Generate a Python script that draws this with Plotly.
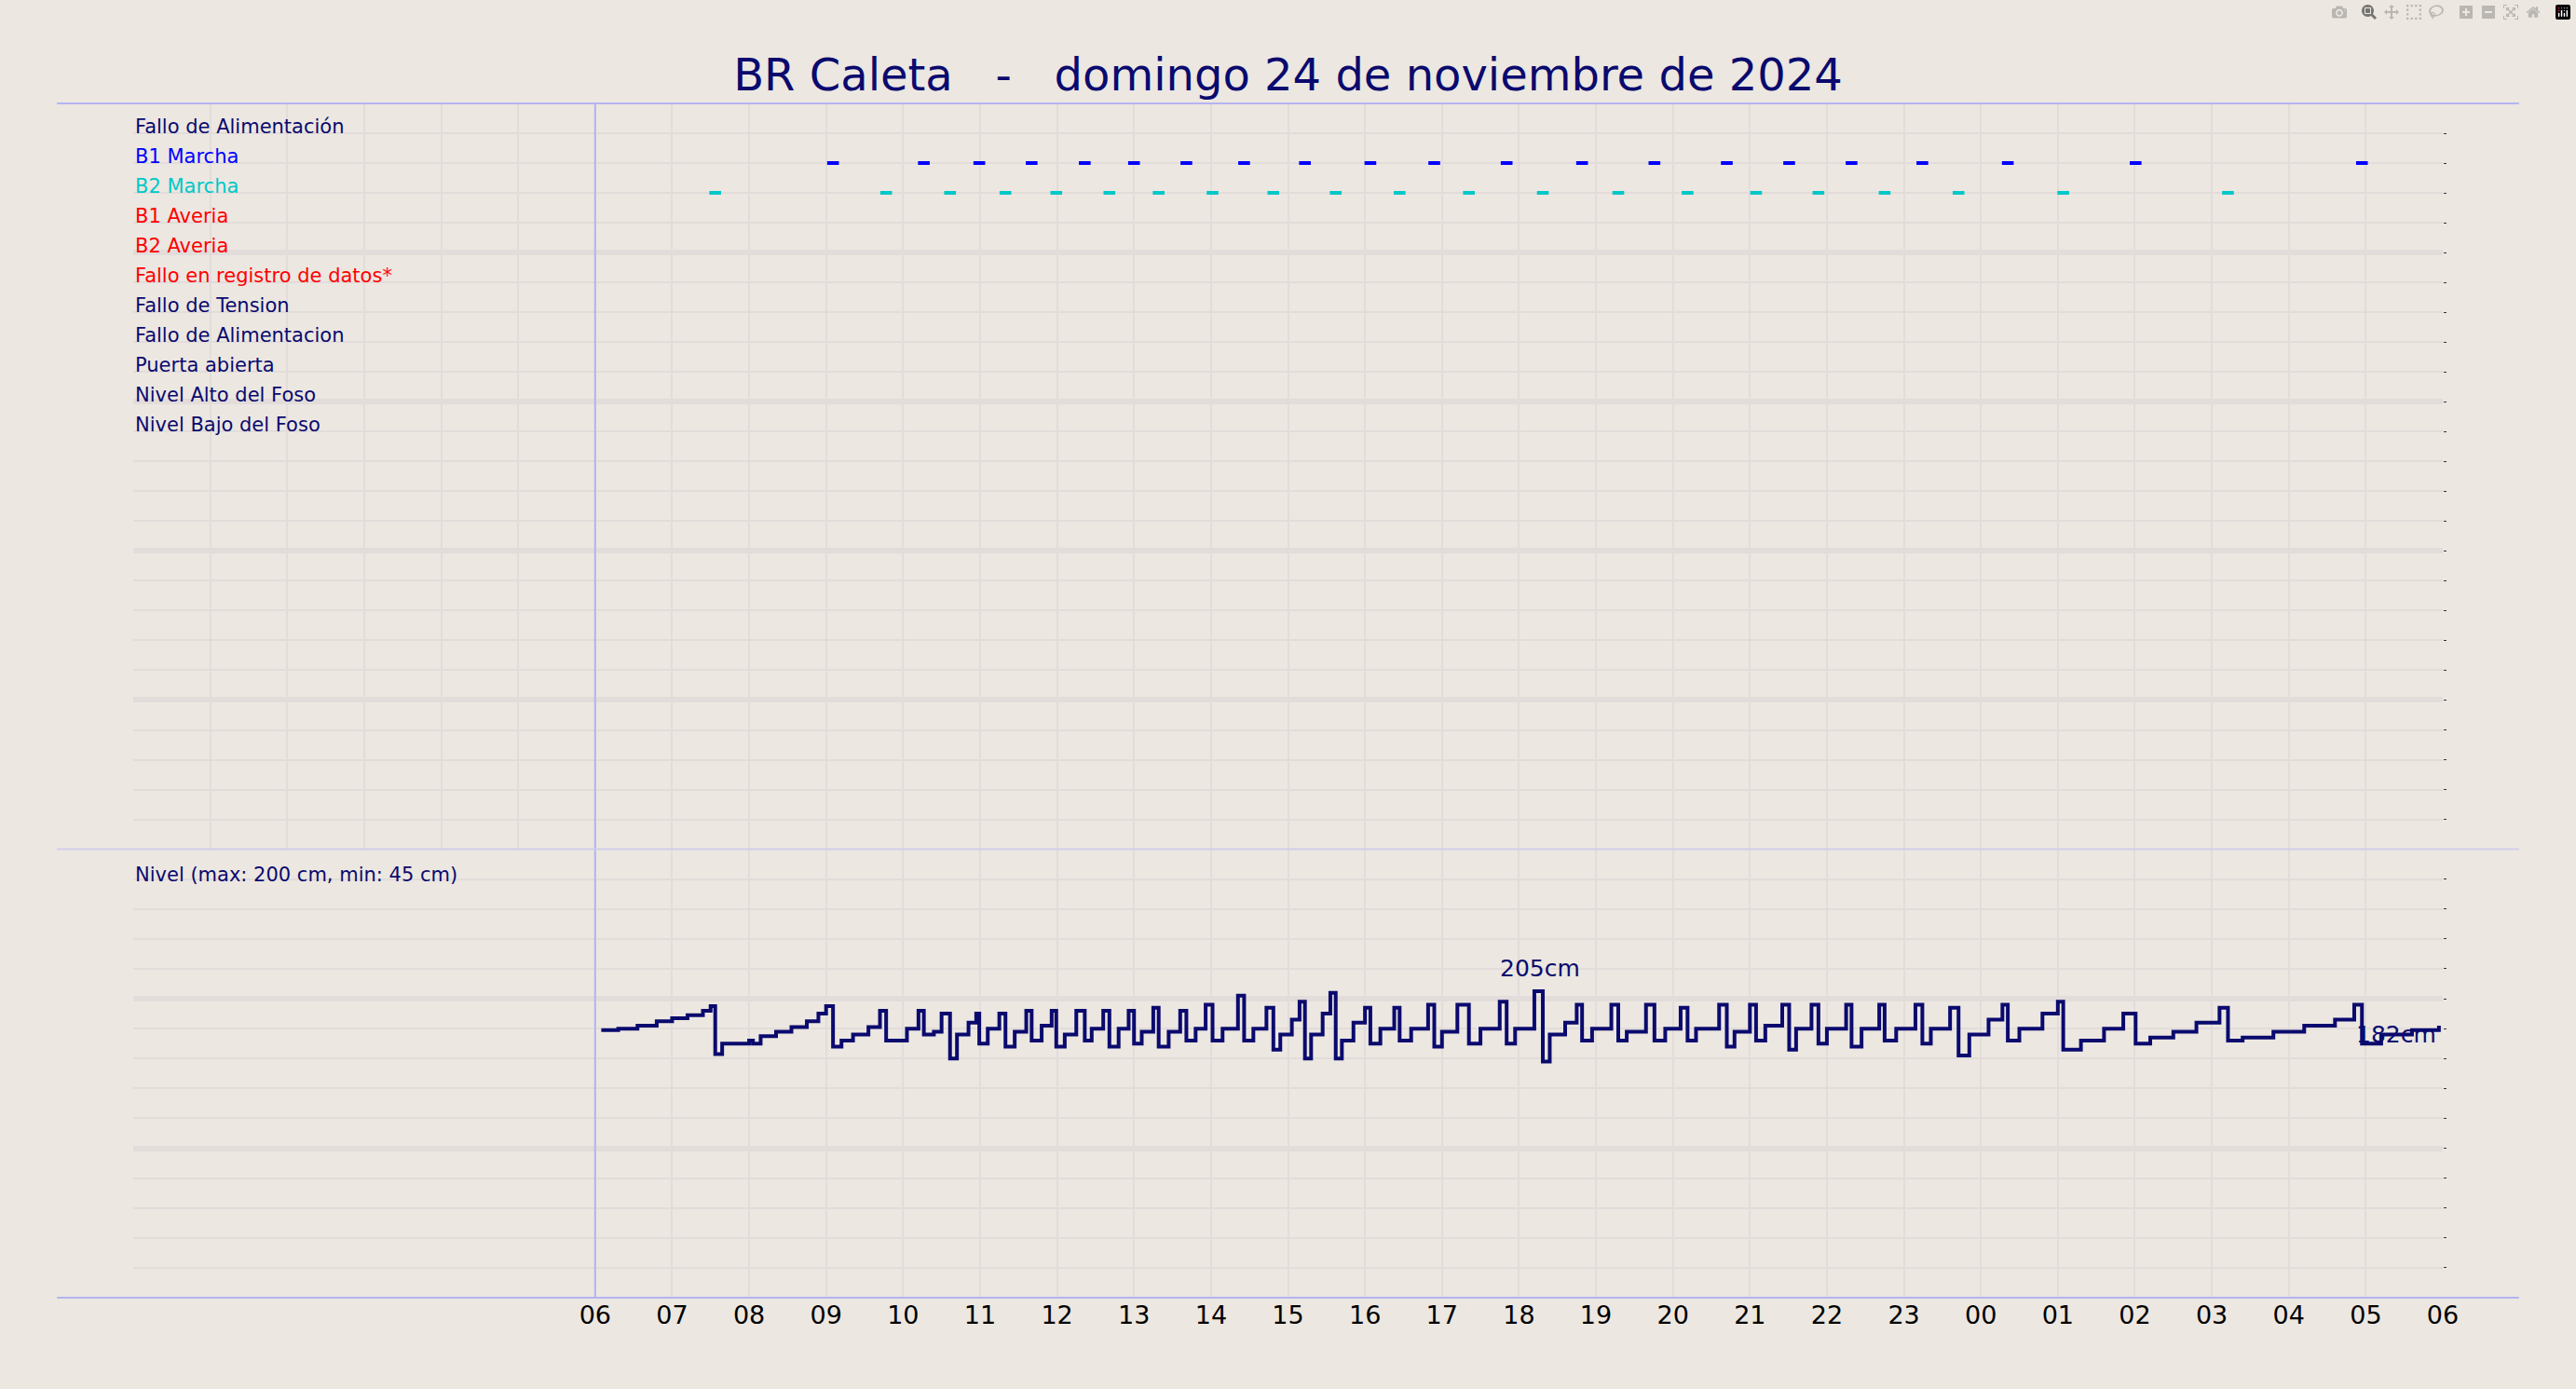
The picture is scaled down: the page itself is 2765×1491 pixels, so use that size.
import plotly.graph_objects as go

# signal rows (top panel), row index = position from the top
row_labels = ["Fallo de Alimentación", "B1 Marcha", "B2 Marcha", "B1 Averia", "B2 Averia",
              "Fallo en registro de datos*", "Fallo de Tension", "Fallo de Alimentacion",
              "Puerta abierta", "Nivel Alto del Foso", "Nivel Bajo del Foso"]
row_colors = ["#0a0a6e", "#0000ff", "#00c8c8", "#ff0000", "#ff0000", "#ff0000",
              "#0a0a6e", "#0a0a6e", "#0a0a6e", "#0a0a6e", "#0a0a6e"]

# pump start times (hours from 00:00 of the day)
b1_times = [9.09, 10.27, 10.99, 11.67, 12.36, 13.0, 13.68, 14.43, 15.22, 16.07, 16.90,
            17.84, 18.82, 19.76, 20.70, 21.51, 22.32, 23.24, 24.35, 26.01, 28.95]
b2_times = [7.56, 9.78, 10.61, 11.33, 11.99, 12.68, 13.32, 14.02, 14.81, 15.62, 16.45,
            17.35, 18.31, 19.29, 20.19, 21.08, 21.89, 22.75, 23.71, 25.07, 27.21]

# pit level (cm)
lvl_t = [6.08, 6.3, 6.55, 6.8, 7.0, 7.2, 7.4, 7.5, 7.56, 7.65, 8.0, 8.05, 8.15, 8.35, 8.55,
         8.75, 8.9, 9.0, 9.09, 9.2, 9.35, 9.55, 9.7, 9.78, 9.9, 10.05, 10.2, 10.27, 10.4, 10.5,
         10.61, 10.7, 10.85, 10.95, 10.99, 11.1, 11.25, 11.33, 11.45, 11.6, 11.67, 11.8, 11.93,
         11.99, 12.1, 12.25, 12.36, 12.45, 12.6, 12.68, 12.8, 12.93, 13.0, 13.1, 13.25, 13.32,
         13.45, 13.6, 13.68, 13.8, 13.93, 14.02, 14.15, 14.35, 14.43, 14.55, 14.72, 14.81, 14.9,
         15.05, 15.15, 15.22, 15.3, 15.45, 15.55, 15.62, 15.7, 15.85, 16.0, 16.07, 16.2, 16.38,
         16.45, 16.6, 16.82, 16.90, 17.0, 17.2, 17.35, 17.5, 17.75, 17.84, 17.95, 18.2, 18.31,
         18.4, 18.6, 18.75, 18.82, 18.95, 19.2, 19.29, 19.4, 19.65, 19.76, 19.9, 20.1, 20.19,
         20.3, 20.6, 20.70, 20.8, 21.0, 21.08, 21.2, 21.42, 21.51, 21.6, 21.8, 21.89, 22.0,
         22.25, 22.32, 22.45, 22.68, 22.75, 22.9, 23.15, 23.24, 23.35, 23.6, 23.71, 23.85, 24.1,
         24.28, 24.35, 24.5, 24.8, 25.0, 25.07, 25.3, 25.6, 25.85, 26.01, 26.2, 26.5, 26.8, 27.1,
         27.21, 27.4, 27.8, 28.2, 28.6, 28.85, 28.95, 29.2, 29.6, 29.95]
lvl_v = [179, 180, 182, 185, 187, 189, 192, 195, 163, 170, 172, 170, 175, 178, 181,
         185, 190, 195, 168, 172, 176, 181, 192, 172, 172, 180, 192, 176, 178, 190,
         160, 176, 184, 190, 170, 180, 190, 168, 178, 192, 172, 182, 192,
         168, 176, 192, 172, 180, 192, 168, 180, 192, 170, 178, 194, 168,
         178, 192, 172, 180, 196, 172, 180, 202, 172, 180, 194, 166, 176,
         186, 198, 160, 176, 190, 204, 160, 172, 184, 194, 170, 180, 194,
         172, 180, 196, 168, 178, 196, 170, 180, 198, 170, 180, 205, 158,
         176, 184, 196, 172, 180, 196, 172, 178, 196, 172, 180, 194, 172,
         180, 196, 168, 178, 196, 172, 182, 196, 166, 180, 196, 170, 180,
         196, 168, 180, 196, 172, 180, 196, 170, 180, 194, 162, 176, 186,
         196, 172, 180, 190, 198, 166, 172, 180, 190, 170, 174, 178, 184, 194,
         172, 174, 178, 182, 186, 196, 170, 176, 179, 182]

hour_vals = list(range(6, 31))
hour_text = ["%02d" % (h % 24) for h in hour_vals]

bg = "#ece7e1"
grid = "#e2dcda"
navy = "#0a0a6e"
FONT = "DejaVu Sans"

fig = go.Figure()

fig.add_trace(go.Scatter(x=b1_times, y=[2] * len(b1_times), mode="markers", xaxis="x", yaxis="y",
                         marker=dict(symbol="line-ew", size=9, line=dict(width=4, color="#0000ff"))))
fig.add_trace(go.Scatter(x=b2_times, y=[3] * len(b2_times), mode="markers", xaxis="x", yaxis="y",
                         marker=dict(symbol="line-ew", size=9, line=dict(width=4, color="#00c8c8"))))
fig.add_trace(go.Scatter(x=lvl_t, y=lvl_v, mode="lines", line_shape="hv", xaxis="x2", yaxis="y2",
                         line=dict(color=navy, width=4)))

for i, (lab, col) in enumerate(zip(row_labels, row_colors)):
    fig.add_annotation(x=0, y=i + 0.77, xref="x", yref="y", text=lab, showarrow=False,
                       xanchor="left", yanchor="middle", font=dict(size=21, color=col, family=FONT))

fig.add_annotation(x=0, y=283, xref="x2", yref="y2", text="Nivel (max: 200 cm, min: 45 cm)",
                   showarrow=False, xanchor="left", yanchor="middle",
                   font=dict(size=21, color=navy, family=FONT))
fig.add_annotation(x=18.27, y=210, xref="x2", yref="y2", text="205cm", showarrow=False,
                   yanchor="bottom", font=dict(size=25, color=navy, family=FONT))
fig.add_annotation(x=29.4, y=166, xref="x2", yref="y2", text="182cm", showarrow=False,
                   yanchor="bottom", font=dict(size=25, color=navy, family=FONT))

xcommon = dict(range=[0, 30], showgrid=True, gridcolor=grid, gridwidth=2, dtick=1, tick0=0,
               zeroline=False, showline=False)
fig.update_layout(
    width=2765, height=1491, paper_bgcolor=bg, plot_bgcolor=bg, showlegend=False,
    margin=dict(l=143, r=143, t=111, b=98),
    font=dict(family=FONT, color="black"),
    title=dict(text="BR Caleta   -   domingo 24 de noviembre de 2024", x=0.5, y=0.946,
               xanchor="center", yanchor="middle", font=dict(size=48, color=navy, family=FONT)),
    xaxis=dict(xcommon, domain=[0, 1], anchor="y", showticklabels=False, matches="x2"),
    xaxis2=dict(xcommon, domain=[0, 1], anchor="y2", tickmode="array", tickvals=hour_vals,
                ticktext=hour_text, tickfont=dict(size=27, color="black"), ticks=""),
    yaxis=dict(domain=[0.3755, 1], range=[25, 0], dtick=5, tick0=0, showgrid=True, gridcolor=grid,
               gridwidth=6, minor=dict(dtick=1, showgrid=True, gridcolor=grid, gridwidth=2,
                                       ticks="outside", ticklen=3, tickcolor="#333"),
               side="right", showticklabels=False, ticks="outside", ticklen=3, tickcolor="#333",
               zeroline=False),
    yaxis2=dict(domain=[0, 0.3755], range=[0, 300], dtick=100, tick0=0, showgrid=True, gridcolor=grid,
                gridwidth=6, minor=dict(dtick=20, showgrid=True, gridcolor=grid, gridwidth=2,
                                        ticks="outside", ticklen=3, tickcolor="#333"),
                side="right", showticklabels=False, ticks="outside", ticklen=3, tickcolor="#333",
                zeroline=False),
)

line_col = "#b4b4f0"
fig.add_shape(type="line", xref="x", yref="paper", x0=6, x1=6, y0=0, y1=1,
              line=dict(color=line_col, width=2))
for yy in [0, 0.3755, 1]:
    fig.add_shape(type="line", xref="paper", yref="paper", x0=-0.033, x1=1.033, y0=yy, y1=yy,
                  line=dict(color=line_col if yy != 0.3755 else "#cfcde8", width=2))

fig.write_html("out.html", post_script="document.body.style.margin='0';document.body.style.background='%s';" % bg)
